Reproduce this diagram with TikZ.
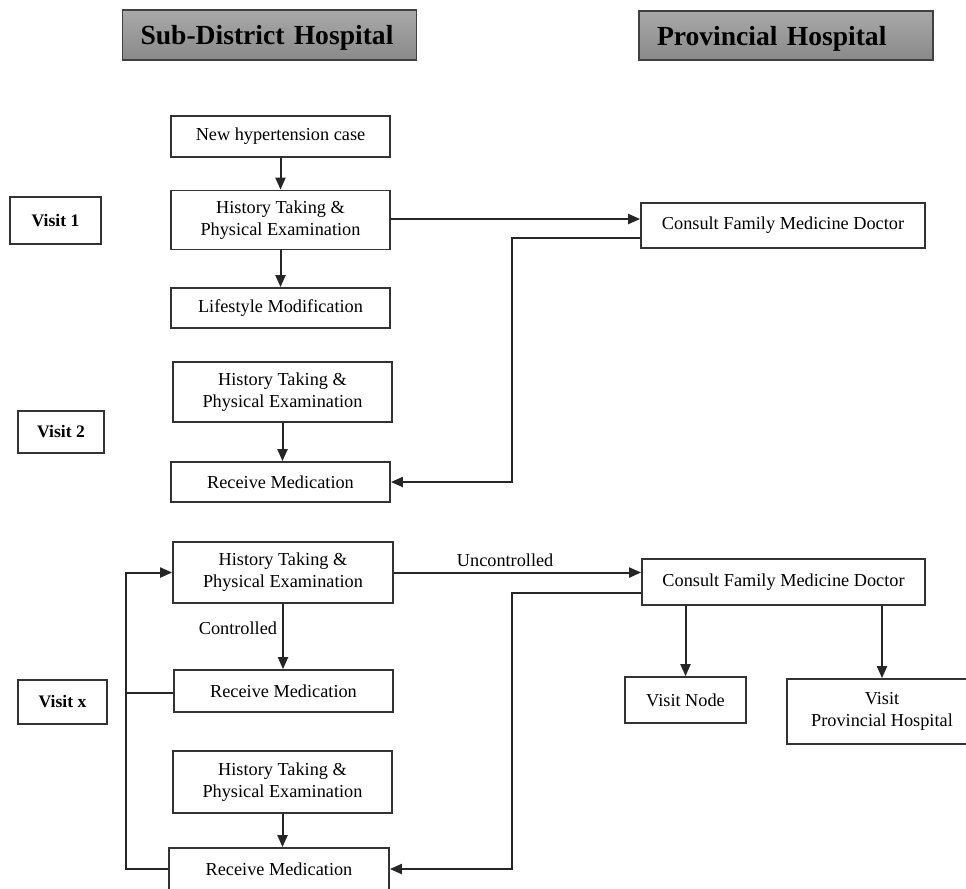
\documentclass[tikz,border=0pt]{standalone}
\usepackage{fontspec}
\setmainfont{Liberation Serif}
\usetikzlibrary{arrows.meta}
\tikzset{
	box/.style={draw=black!80, line width=0.35mm, align=center, inner sep=0pt, font=\fontsize{10.4}{12.5}\selectfont},
	head/.style={draw=black!75, line width=0.3mm, top color=black!34, bottom color=black!46, inner xsep=3.6mm, inner ysep=0pt, text depth=0pt, align=left, font=\fontsize{15.7}{18}\selectfont\bfseries},
	visitbox/.style={draw=black!80, line width=0.35mm, inner sep=0pt, font=\fontsize{10}{12}\selectfont\bfseries},
	link/.style={line width=0.4mm, draw=black!85},
	arrow/.style={link, -{Triangle[length=2.4mm,width=2mm]}},
	lbl/.style={font=\fontsize{10.4}{12.5}\selectfont, inner sep=1mm}
}

\begin{document}
\begin{tikzpicture}[x=0.2mm, y=-0.2mm]
			%%%%% START %%%%%
			\useasboundingbox (0, 0) rectangle (966, 888);
			
			\node[head, text width=51.6mm, minimum height=10mm] (sub) at (269.5, 35) {Sub-District Hospital};
			\node[head, text width=51.6mm, minimum height=9.8mm] (prov) at (786, 35.5) {Provincial Hospital};
			
			\node[box, minimum width=43.8mm, minimum height=8.2mm] (newcase) at (280.5, 136.5) {New hypertension case};
			\node[box, minimum width=43.8mm, minimum height=11.8mm] (ht1) at (280.5, 220) {History Taking \&\\Physical Examination};
			\node[box, minimum width=43.8mm, minimum height=8mm] (life) at (280.5, 308) {Lifestyle Modification};
			\node[visitbox, minimum width=18.2mm, minimum height=9.4mm] (visit1) at (55.5, 220.5) {Visit 1};
			\node[box, minimum width=56.8mm, minimum height=9mm] (cons1) at (783, 225.5) {Consult Family Medicine Doctor};
			
			\node[box, minimum width=43.8mm, minimum height=12mm] (ht2) at (282.5, 392) {History Taking \&\\Physical Examination};
			\node[visitbox, minimum width=17.2mm, minimum height=8.4mm] (visit2) at (61, 432) {Visit 2};
			\node[box, minimum width=43.8mm, minimum height=8mm] (rm2) at (280.5, 482) {Receive Medication};
			
			\node[box, minimum width=44mm, minimum height=12.2mm] (ht3) at (283, 572.5) {History Taking \&\\Physical Examination};
			\node[box, minimum width=56.6mm, minimum height=9.2mm] (cons2) at (783.5, 582) {Consult Family Medicine Doctor};
			\node[box, minimum width=43.8mm, minimum height=8.4mm] (rmx) at (283.5, 691) {Receive Medication};
			\node[visitbox, minimum width=17.8mm, minimum height=8.8mm] (visitx) at (62.5, 702) {Visit x};
			\node[box, minimum width=24.2mm, minimum height=9.2mm] (vnode) at (685.5, 700) {Visit Node};
			\node[box, minimum width=38mm, minimum height=13mm] (vprov) at (882, 711.5) {Visit\\Provincial Hospital};
			
			\node[box, minimum width=43.8mm, minimum height=12.4mm] (ht4) at (282.5, 782) {History Taking \&\\Physical Examination};
			\node[box, minimum width=44mm, minimum height=8.4mm] (rm4) at (279, 869) {Receive Medication};
			
			% visit 1 and 2
			\draw[arrow] (newcase) -- (ht1);
			\draw[arrow] (ht1) -- (life);
			\draw[arrow] ([yshift=0.2mm]ht1.east) -- ([yshift=0.2mm]ht1.east -| cons1.west);
			\draw[arrow] ([yshift=-2.5mm]cons1.west) -- ++(-128, 0) |- (rm2.east);
			\draw[arrow] (ht2.south) -- (ht2.south |- rm2.north);
			
			% visit x
			\draw[arrow] (ht3.east) -- node[lbl, above, pos=0.45] {Uncontrolled} (ht3.east -| cons2.west);
			\draw[arrow] ([yshift=-2.2mm]cons2.west) -- ++(-129, 0) |- (rm4.east);
			\draw[arrow] (ht3.south) -- node[lbl, left, pos=0.38] {Controlled} (ht3.south |- rmx.north);
			\draw[link] ([yshift=-0.4mm]rmx.west) -- ++(-47, 0);
			\draw[arrow] (rm4.west) -- ++(-42, 0) |- (ht3.west);
			\draw[arrow] (ht4.south) -- (ht4.south |- rm4.north);
			\draw[arrow] (vnode.north |- cons2.south) -- (vnode.north);
			\draw[arrow] (vprov.north |- cons2.south) -- (vprov.north);
			
			%%%%% END %%%%%
\end{tikzpicture}
\end{document}
